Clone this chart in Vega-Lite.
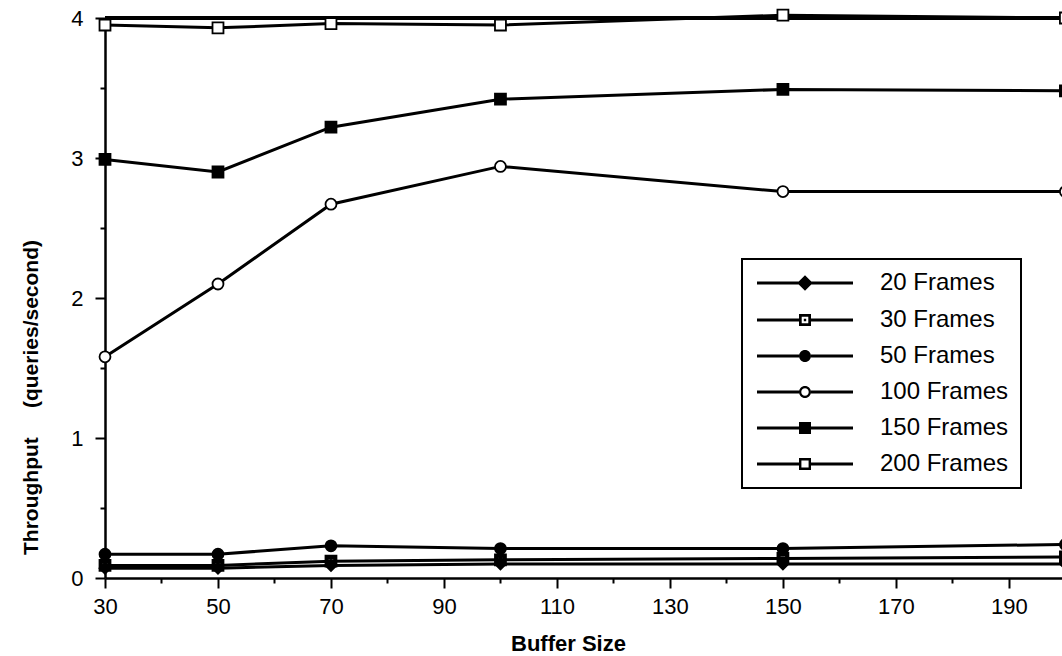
{
  "$schema": "https://vega.github.io/schema/vega-lite/v6.json",
  "width": 957,
  "height": 560,
  "autosize": {"type": "none"},
  "padding": {"left": 105, "top": 18, "right": 0, "bottom": 78},
  "background": "white",
  "config": {"view": {"stroke": null}, "font": "Liberation Sans", "legend": {"strokeWidth": 2}},
  "data": {
    "values": [
      {"series": "20 Frames", "buffer": 30, "tp": 0.07},
      {"series": "20 Frames", "buffer": 50, "tp": 0.07},
      {"series": "20 Frames", "buffer": 70, "tp": 0.09},
      {"series": "20 Frames", "buffer": 100, "tp": 0.1},
      {"series": "20 Frames", "buffer": 150, "tp": 0.1},
      {"series": "20 Frames", "buffer": 200, "tp": 0.1},
      {"series": "30 Frames", "buffer": 30, "tp": 0.09},
      {"series": "30 Frames", "buffer": 50, "tp": 0.09},
      {"series": "30 Frames", "buffer": 70, "tp": 0.12},
      {"series": "30 Frames", "buffer": 100, "tp": 0.13},
      {"series": "30 Frames", "buffer": 150, "tp": 0.14},
      {"series": "30 Frames", "buffer": 200, "tp": 0.15},
      {"series": "50 Frames", "buffer": 30, "tp": 0.17},
      {"series": "50 Frames", "buffer": 50, "tp": 0.17},
      {"series": "50 Frames", "buffer": 70, "tp": 0.23},
      {"series": "50 Frames", "buffer": 100, "tp": 0.21},
      {"series": "50 Frames", "buffer": 150, "tp": 0.21},
      {"series": "50 Frames", "buffer": 200, "tp": 0.24},
      {"series": "100 Frames", "buffer": 30, "tp": 1.58},
      {"series": "100 Frames", "buffer": 50, "tp": 2.1},
      {"series": "100 Frames", "buffer": 70, "tp": 2.67},
      {"series": "100 Frames", "buffer": 100, "tp": 2.94},
      {"series": "100 Frames", "buffer": 150, "tp": 2.76},
      {"series": "100 Frames", "buffer": 200, "tp": 2.76},
      {"series": "150 Frames", "buffer": 30, "tp": 2.99},
      {"series": "150 Frames", "buffer": 50, "tp": 2.9},
      {"series": "150 Frames", "buffer": 70, "tp": 3.22},
      {"series": "150 Frames", "buffer": 100, "tp": 3.42},
      {"series": "150 Frames", "buffer": 150, "tp": 3.49},
      {"series": "150 Frames", "buffer": 200, "tp": 3.48},
      {"series": "200 Frames", "buffer": 30, "tp": 3.95},
      {"series": "200 Frames", "buffer": 50, "tp": 3.93},
      {"series": "200 Frames", "buffer": 70, "tp": 3.96},
      {"series": "200 Frames", "buffer": 100, "tp": 3.95},
      {"series": "200 Frames", "buffer": 150, "tp": 4.02},
      {"series": "200 Frames", "buffer": 200, "tp": 4.0}
    ]
  },
  "resolve": {"scale": {"shape": "independent"}, "legend": {"shape": "independent"}},
  "layer": [
    {
      "mark": {"type": "line", "color": "black", "strokeWidth": 3},
      "encoding": {
        "x": {
          "field": "buffer", "type": "quantitative",
          "scale": {"domain": [30, 199.4], "nice": false, "zero": false},
          "axis": {
            "title": "Buffer Size",
            "values": [30, 40, 50, 60, 70, 80, 90, 100, 110, 120, 130, 140, 150, 160, 170, 180, 190],
            "labelExpr": "(datum.value - 30) % 20 === 0 ? datum.label : ''",
            "tickSize": {"condition": {"test": "(datum.value - 30) % 20 === 0", "value": 10}, "value": 5},
            "grid": false, "domainColor": "black", "domainWidth": 2.5,
            "tickColor": "black", "tickWidth": 2,
            "labelFontSize": 22, "labelColor": "black", "labelFont": "Liberation Sans",
            "labelPadding": 8, "labelFlush": false, "labelOverlap": false,
            "titleFontSize": 22, "titleFontWeight": "bold", "titleColor": "black", "titleFont": "Liberation Sans",
            "titleX": 463, "titleY": 72, "titleBaseline": "alphabetic", "titleAlign": "center"
          }
        },
        "y": {
          "field": "tp", "type": "quantitative",
          "scale": {"domain": [0, 4], "nice": false},
          "axis": {
            "title": "Throughput\u00a0\u00a0\u00a0\u00a0\u00a0(queries/second)",
            "values": [0, 0.5, 1, 1.5, 2, 2.5, 3, 3.5, 4],
            "format": ".0f",
            "labelExpr": "datum.value % 1 === 0 ? datum.label : ''",
            "tickSize": {"condition": {"test": "datum.value % 1 === 0", "value": 10}, "value": 5},
            "grid": false, "domainColor": "black", "domainWidth": 2.5,
            "tickColor": "black", "tickWidth": 2,
            "labelFontSize": 22, "labelColor": "black", "labelFont": "Liberation Sans",
            "labelPadding": 12, "labelFlush": false, "labelOverlap": false,
            "titleFontSize": 21, "titleFontWeight": "bold", "titleColor": "black", "titleFont": "Liberation Sans",
            "titleX": -68, "titleY": 379, "titleAngle": -90, "titleAlign": "center", "titleBaseline": "alphabetic"
          }
        },
        "detail": {"field": "series"},
        "order": {"field": "buffer"}
      }
    },
    {
      "mark": {"type": "rule", "color": "black", "strokeWidth": 2.5},
      "encoding": {
        "y": {"datum": 4, "type": "quantitative"}
      }
    },
    {
      "mark": {"type": "point", "filled": true, "stroke": "black", "strokeWidth": 1.8, "size": 120, "opacity": 1},
      "encoding": {
        "x": {"field": "buffer", "type": "quantitative"},
        "y": {"field": "tp", "type": "quantitative"},
        "shape": {
          "field": "series", "type": "nominal",
          "scale": {
            "domain": ["20 Frames", "30 Frames", "50 Frames", "100 Frames", "150 Frames", "200 Frames"],
            "range": ["diamond", "M-1,-1L1,-1L1,1L-1,1ZM-0.55,-0.55L-0.55,0.55L0.55,0.55L0.55,-0.55ZM-0.2,-0.2L0.2,-0.2L0.2,0.2L-0.2,0.2Z", "circle", "circle", "square", "square"]
          },
          "legend": null
        },
        "fill": {
          "field": "series", "type": "nominal",
          "scale": {
            "domain": ["20 Frames", "30 Frames", "50 Frames", "100 Frames", "150 Frames", "200 Frames"],
            "range": ["black", "black", "black", "white", "black", "white"]
          },
          "legend": null
        }
      }
    },
    {
      "transform": [{"filter": "false"}],
      "mark": {"type": "point", "filled": true, "color": "black", "opacity": 1},
      "encoding": {
        "shape": {
          "field": "series", "type": "nominal",
          "scale": {
            "domain": ["20 Frames", "30 Frames", "50 Frames", "100 Frames", "150 Frames", "200 Frames"],
            "range": [
              "M-8,-0.25L-1,-0.25L-1,0.25L-8,0.25ZM1,-0.25L8,-0.25L8,0.25L1,0.25ZM0,-1.3L1.3,0L0,1.3L-1.3,0Z",
              "M-8,-0.25L-1,-0.25L-1,0.25L-8,0.25ZM1,-0.25L8,-0.25L8,0.25L1,0.25ZM-1,-1L1,-1L1,1L-1,1ZM-0.55,-0.55L-0.55,0.55L0.55,0.55L0.55,-0.55ZM-0.2,-0.2L0.2,-0.2L0.2,0.2L-0.2,0.2Z",
              "M-8,-0.25L-1,-0.25L-1,0.25L-8,0.25ZM1,-0.25L8,-0.25L8,0.25L1,0.25ZM-1,0A1,1,0,1,1,1,0A1,1,0,1,1,-1,0Z",
              "M-8,-0.25L-1,-0.25L-1,0.25L-8,0.25ZM1,-0.25L8,-0.25L8,0.25L1,0.25ZM-1,0A1,1,0,1,1,1,0A1,1,0,1,1,-1,0ZM-0.62,0A0.62,0.62,0,1,0,0.62,0A0.62,0.62,0,1,0,-0.62,0Z",
              "M-8,-0.25L-1,-0.25L-1,0.25L-8,0.25ZM1,-0.25L8,-0.25L8,0.25L1,0.25ZM-1,-1L1,-1L1,1L-1,1Z",
              "M-8,-0.25L-1,-0.25L-1,0.25L-8,0.25ZM1,-0.25L8,-0.25L8,0.25L1,0.25ZM-1,-1L1,-1L1,1L-1,1ZM-0.6,-0.6L-0.6,0.6L0.6,0.6L0.6,-0.6Z"
            ]
          },
          "legend": {
            "orient": "none", "legendX": 637, "legendY": 241, "title": null,
            "symbolSize": 144, "symbolOffset": 39, "labelOffset": 63,
            "labelFontSize": 24, "labelFont": "Liberation Sans", "labelColor": "black", "labelLimit": 300,
            "padding": 12, "rowPadding": 12,
            "strokeColor": "black",
            "symbolStrokeWidth": 2.5, "symbolOpacity": 1, "symbolFillColor": "black"
          }
        }
      }
    }
  ]
}
